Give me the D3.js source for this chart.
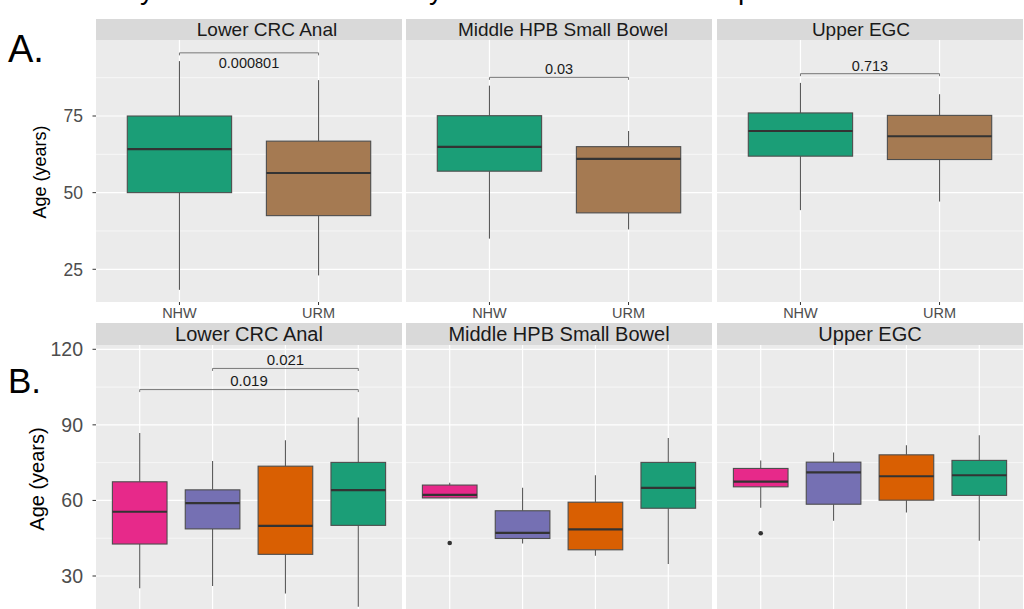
<!DOCTYPE html>
<html><head><meta charset="utf-8">
<script src="https://cdn.jsdelivr.net/npm/d3@7"></script>
<style>
html,body{margin:0;padding:0;background:#fff;}
svg{display:block;font-family:"Liberation Sans",Arial,Helvetica,sans-serif;}
</style></head>
<body><svg id="c" width="1024" height="609"></svg>
<script>
// ---------- data ----------
const panels = ["Lower CRC Anal", "Middle HPB Small Bowel", "Upper EGC"];
const groupsA = ["NHW", "URM"];
const colorsA = ["#1B9E77", "#A57A52"];
// [lower whisker, Q1, median, Q3, upper whisker]
const statsA_lower  = [[18.3, 50.0, 64.2, 75.0, 92.9], [23.0, 42.5, 56.4, 66.8, 86.7]];
const statsA_middle = [[35.0, 57.0, 64.9, 75.1, 84.9], [38.0, 43.4, 61.0, 65.0, 70.1]];
const statsA_upper  = [[44.3, 61.9, 70.1, 76.0, 85.8], [47.1, 60.8, 68.4, 75.2, 82.1]];
const pvalA = ["0.000801", "0.03", "0.713"];
const pvalA_y = [95.6, 87.6, 88.8];
const ticksA = [25, 50, 75];

const groupsB = ["G1", "G2", "G3", "NHW"];
const colorsB = ["#E7298A", "#7570B3", "#D95F02", "#1B9E77"];
const statsB_lower  = [[25.1, 42.7, 55.5, 67.4, 86.8], [26.0, 48.7, 58.9, 64.2, 75.7], [23.1, 38.6, 49.9, 73.6, 83.9], [17.8, 50.1, 64.1, 75.1, 92.9]];
const statsB_middle = [[61.0, 61.0, 62.2, 66.1, 67.0], [42.9, 44.9, 47.1, 55.9, 65.0], [38.0, 40.4, 48.5, 59.3, 70.0], [34.8, 56.9, 65.0, 75.1, 84.8]];
const statsB_upper  = [[57.1, 65.4, 67.5, 72.7, 75.9], [51.9, 58.5, 71.1, 75.2, 79.0], [55.2, 60.1, 69.6, 78.1, 81.9], [44.0, 62.0, 70.0, 75.9, 85.9]];
const outliersB_middle = [[43.1], [], [], []];
const outliersB_upper  = [[47.0], [], [], []];
const outliersB_lower  = [[], [], [], []];
const pvalB = ["0.019", "0.021"];
const pvalB_pairs = [[0, 3], [1, 3]];
const pvalB_y = [104.0, 112.4];
const ticksB = [30, 60, 90, 120];
const titleGlyphs = ["y", "y", "p"];

// ---------- layout ----------
const svg = d3.select("#c");
const panelX = [[96, 402], [406, 712], [717, 1023]];
const rowA = {stripTop: 19, top: 40, bottom: 302};
const rowB = {stripTop: 323, top: 345, bottom: 640};
const yA = d3.scaleLinear().domain([14.33, 99.79]).range([rowA.bottom, rowA.top]);
const yB = d3.scaleLinear().domain([4.6, 121.7]).range([rowB.bottom, rowB.top]);

// cropped title descenders
const titleX = [140, 429, 738];
titleGlyphs.forEach((g, i) => {
  svg.append("text").attr("x", titleX[i]).attr("y", -1).attr("font-size", 28).attr("fill", "#000").text(g);
});

function drawRow(row, y, groups, colors, statsList, outList, ticks, minorTicks, opts) {
  const g = svg.append("g");
  panels.forEach((name, pi) => {
    const [x0, x1] = panelX[pi];
    const x = d3.scalePoint().domain(groups).range([x0, x1]).padding(0.6);
    const step = x.step();
    const bw = step * 0.75;
    const pg = g.append("g");
    // strip
    pg.append("rect").attr("x", x0).attr("y", row.stripTop).attr("width", x1 - x0).attr("height", row.top - row.stripTop).attr("fill", "#D9D9D9");
    pg.append("text").attr("x", (x0 + x1) / 2 + opts.stripShift[pi]).attr("y", (row.stripTop + row.top) / 2).attr("dy", "0.36em")
      .attr("text-anchor", "middle").attr("font-size", opts.stripSize).attr("fill", "#1A1A1A").text(name);
    // panel bg
    pg.append("rect").attr("x", x0).attr("y", row.top).attr("width", x1 - x0).attr("height", row.bottom - row.top).attr("fill", "#EBEBEB");
    // grid
    minorTicks.forEach(t => {
      pg.append("line").attr("x1", x0).attr("x2", x1).attr("y1", y(t)).attr("y2", y(t)).attr("stroke", "#fff").attr("stroke-width", 0.6);
    });
    ticks.forEach(t => {
      pg.append("line").attr("x1", x0).attr("x2", x1).attr("y1", y(t)).attr("y2", y(t)).attr("stroke", "#fff").attr("stroke-width", 1.2);
    });
    groups.forEach(gr => {
      pg.append("line").attr("x1", x(gr)).attr("x2", x(gr)).attr("y1", row.top).attr("y2", row.bottom).attr("stroke", "#fff").attr("stroke-width", 1.2);
    });
    // boxes
    const stats = statsList[pi];
    groups.forEach((gr, gi) => {
      const s = stats[gi];
      const cx = x(gr);
      pg.append("line").attr("x1", cx).attr("x2", cx).attr("y1", y(s[3])).attr("y2", y(s[4])).attr("stroke", "#5a5a5a").attr("stroke-width", 1.1);
      pg.append("line").attr("x1", cx).attr("x2", cx).attr("y1", y(s[1])).attr("y2", y(s[0])).attr("stroke", "#5a5a5a").attr("stroke-width", 1.1);
      pg.append("rect").attr("x", cx - bw / 2).attr("y", y(s[3])).attr("width", bw).attr("height", Math.max(0.5, y(s[1]) - y(s[3])))
        .attr("fill", colors[gi]).attr("stroke", "#4D4D4D").attr("stroke-width", 1.1);
      pg.append("line").attr("x1", cx - bw / 2).attr("x2", cx + bw / 2).attr("y1", y(s[2])).attr("y2", y(s[2])).attr("stroke", "#333").attr("stroke-width", 2.2);
      if (outList) outList[pi][gi].forEach(o => {
        pg.append("circle").attr("cx", cx).attr("cy", y(o)).attr("r", 2.3).attr("fill", "#333");
      });
    });
    // x ticks & labels
    if (opts.xLabels) {
      groups.forEach(gr => {
        pg.append("line").attr("x1", x(gr)).attr("x2", x(gr)).attr("y1", row.bottom).attr("y2", row.bottom + 3).attr("stroke", "#333").attr("stroke-width", 1);
        pg.append("text").attr("x", x(gr)).attr("y", row.bottom + 16).attr("text-anchor", "middle").attr("font-size", opts.xSize).attr("fill", "#4D4D4D").text(gr);
      });
    }
    opts.brackets(pg, pi, x, groups);
  });
  // y axis
  const ax = g.append("g");
  ticks.forEach(t => {
    ax.append("line").attr("x1", 92.5).attr("x2", 96).attr("y1", y(t)).attr("y2", y(t)).attr("stroke", "#333").attr("stroke-width", 1);
    ax.append("text").attr("x", 83).attr("y", y(t)).attr("dy", "0.36em").attr("text-anchor", "end").attr("font-size", opts.tickSize).attr("fill", "#4D4D4D").text(t);
  });
  ax.append("text").attr("transform", `translate(${opts.titleX},${opts.titleY}) rotate(-90)`).attr("text-anchor", "middle")
    .attr("dy", "0.36em").attr("font-size", opts.titleSize).attr("fill", "#000").text("Age (years)");
  svg.append("text").attr("x", 8).attr("y", opts.letterY).attr("font-size", opts.letterSize).attr("fill", "#000").text(opts.letter);
}

function bracket(pg, xa, xb, yy, label, textDy, size) {
  pg.append("path").attr("d", `M${xa},${yy + 2.5}V${yy}H${xb}V${yy + 2.5}`).attr("fill", "none").attr("stroke", "#777").attr("stroke-width", 1);
  pg.append("text").attr("x", (xa + xb) / 2).attr("y", yy + textDy).attr("text-anchor", "middle").attr("font-size", size).attr("fill", "#1A1A1A").text(label);
}

drawRow(rowA, yA, groupsA, colorsA, [statsA_lower, statsA_middle, statsA_upper], null, ticksA, [37.5, 62.5, 87.5], {
  stripSize: 19, stripShift: [18, 4, -9], xLabels: true, xSize: 14.5, tickSize: 17.5, titleSize: 18, titleX: 40, titleY: 172,
  letter: "A.", letterY: 62, letterSize: 38,
  brackets: (pg, pi, x, groups) => {
    const dy = pi === 0 ? 15.6 : -3;
    bracket(pg, x(groups[0]), x(groups[1]), yA(pvalA_y[pi]), pvalA[pi], dy, 14.5);
  }
});

drawRow(rowB, yB, groupsB, colorsB, [statsB_lower, statsB_middle, statsB_upper], [outliersB_lower, outliersB_middle, outliersB_upper], ticksB, [45, 75, 105], {
  stripSize: 20, stripShift: [0, 0, 0], xLabels: false, tickSize: 19.5, titleSize: 20, titleX: 37, titleY: 479,
  letter: "B.", letterY: 392.5, letterSize: 35,
  brackets: (pg, pi, x, groups) => {
    if (pi !== 0) return;
    pvalB.forEach((lab, k) => {
      const [a, b] = pvalB_pairs[k];
      bracket(pg, x(groups[a]), x(groups[b]), yB(pvalB_y[k]), lab, -3.6, 15);
    });
  }
});
</script></body></html>
